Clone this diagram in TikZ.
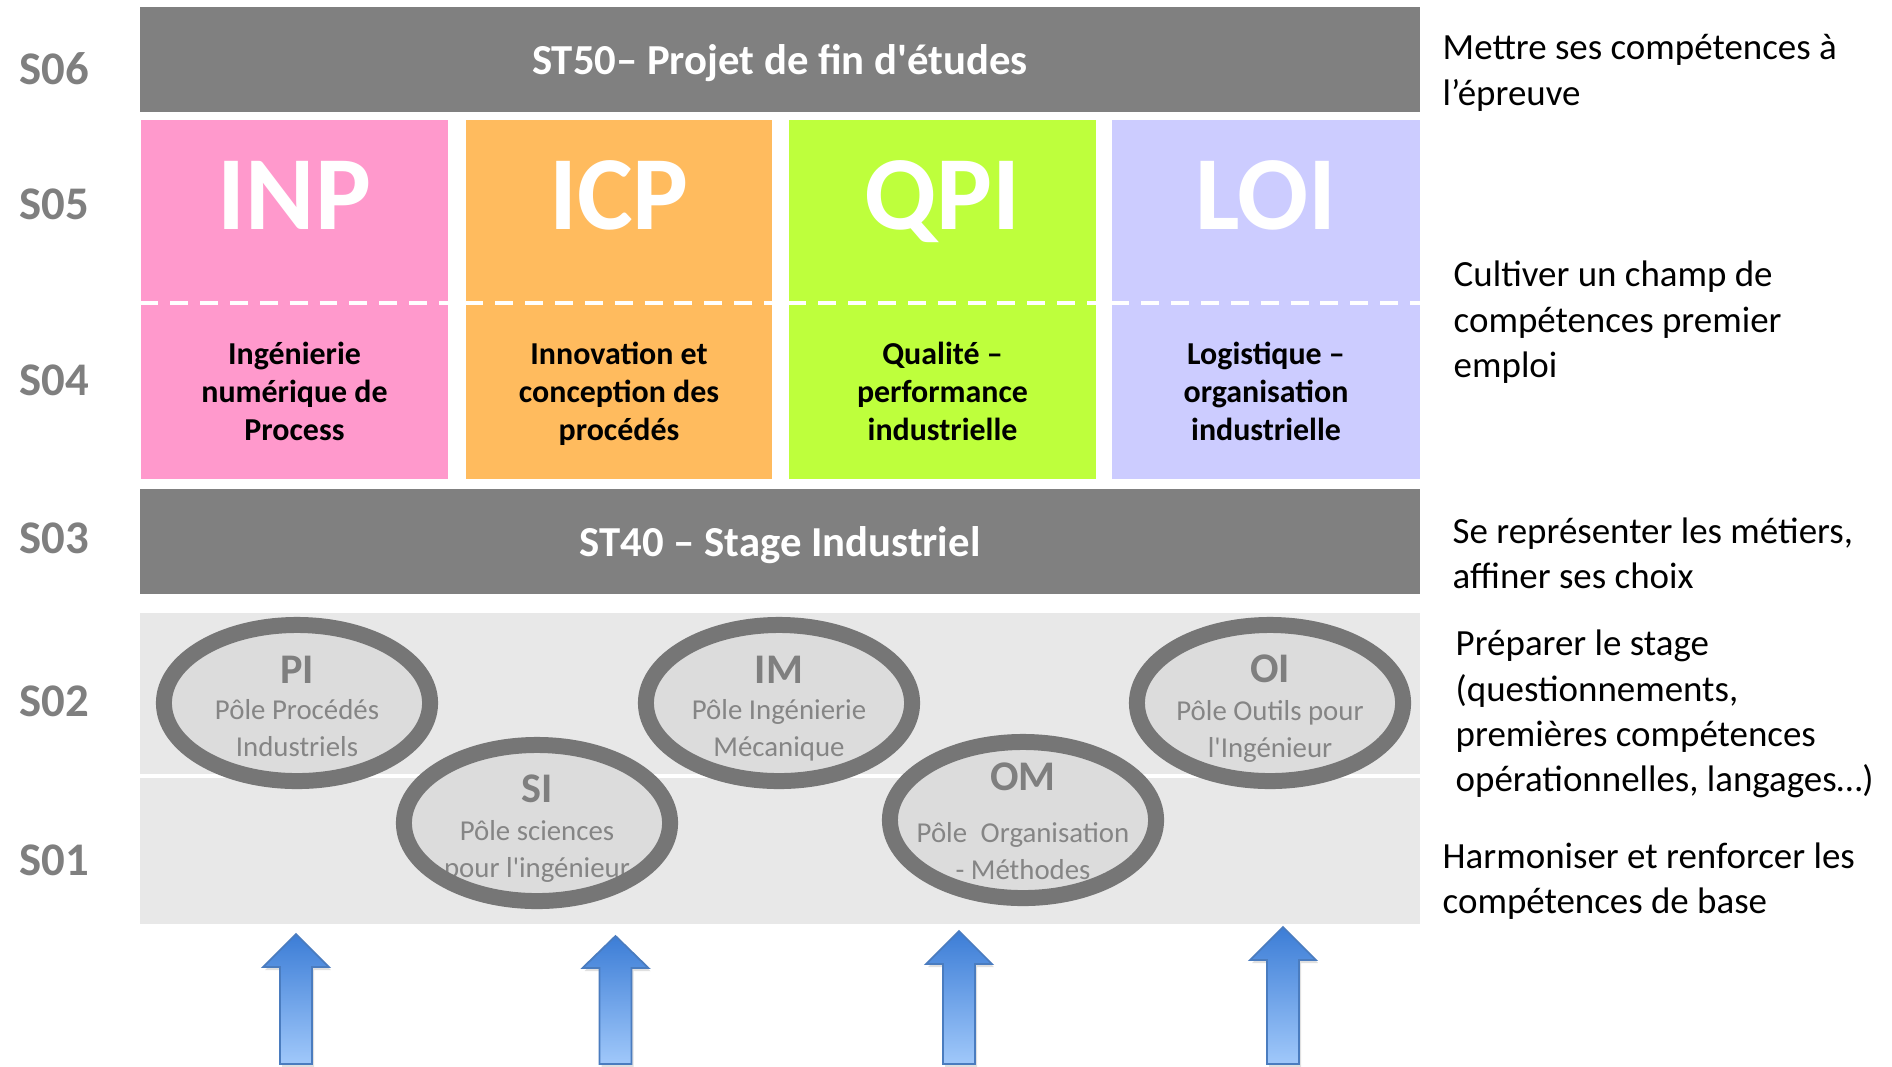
\documentclass[tikz,border=0pt]{standalone}
\usepackage{fontspec}
\setmainfont{Carlito}
\newfontfamily\carlplain{Carlito}
\usetikzlibrary{shapes.geometric}
\newcommand\stq{{\carlplain\char"0027\relax}}
\definecolor{bargrey}{HTML}{808080}
\definecolor{labgrey}{HTML}{7F7F7F}
\definecolor{bandgrey}{HTML}{E8E8E8}
\definecolor{polefill}{HTML}{DCDCDC}
\definecolor{ringgrey}{HTML}{767676}
\definecolor{polepink}{HTML}{FF99CC}
\definecolor{poleorange}{HTML}{FFBB5E}
\definecolor{polelime}{HTML}{BEFF3C}
\definecolor{polelav}{HTML}{CCCCFF}
\definecolor{arrtop}{HTML}{3C7DD6}
\definecolor{arrbot}{HTML}{A0C8FA}
\definecolor{arredge}{HTML}{4A7CBF}
\begin{document}
\begin{tikzpicture}[x=0.01cm,y=-0.01cm,
  slab/.style={anchor=base,inner sep=0pt,text=labgrey,font=\fontsize{13.3pt}{16pt}\selectfont\bfseries},
  barbox/.style={rectangle,fill=bargrey,inner sep=0pt,minimum width=12.8cm,minimum height=1.05cm},
  bartitle/.style={anchor=base,inner sep=0pt,text=white,font=\fontsize{12.15pt}{14pt}\selectfont\bfseries},
  optbox/.style={rectangle,inner sep=0pt,minimum height=3.59cm},
  bigcode/.style={anchor=base,inner sep=0pt,text=white,font=\fontsize{29.9pt}{34pt}\selectfont\bfseries},
  optname/.style={anchor=base,inner sep=0pt,align=center,text=black,font=\fontsize{9.08pt}{10.67pt}\selectfont\bfseries},
  dashline/.style={draw=white,line width=1.14pt,dash pattern=on 5.1pt off 3.4pt},
  band/.style={rectangle,fill=bandgrey,inner sep=0pt,minimum width=12.8cm},
  pole/.style={ellipse,fill=polefill,inner sep=0pt,minimum width=2.66cm,minimum height=1.56cm},
  ring/.style={draw=ringgrey,line width=4.55pt},
  poletitle/.style={anchor=base,inner sep=0pt,text=labgrey,font=\fontsize{12pt}{14pt}\selectfont\bfseries},
  polesub/.style={anchor=base,inner sep=0pt,align=center,text=labgrey!95!white,font=\fontsize{8.2pt}{10.25pt}\selectfont},
  goal/.style={anchor=base west,inner sep=0pt,align=left,text=black,font=\fontsize{10.5pt}{12.8pt}\selectfont},
  uparrow/.style={draw=arredge,line width=0.5pt,top color=arrtop,bottom color=arrbot},
  arrshadow/.style={fill=black,opacity=0.12}
]
\useasboundingbox (0,0) rectangle (1892,1066);
\clip (0,0) rectangle (1892,1066);
\fill[white] (0,0) rectangle (1892,1066);

% semester labels
\node[slab] (S06) at (54,84) {S06};
\node[slab] (S05) at (54,219) {S05};
\node[slab] (S04) at (54,395) {S04};
\node[slab] (S03) at (54,553) {S03};
\node[slab] (S02) at (54,716) {S02};
\node[slab] (S01) at (54,875) {S01};

% top bar
\node[barbox] (ST50) at (780,59.5) {};
\node[bartitle] (ST50t) at (780,74) {ST50– Projet de fin d\stq études};

% option boxes
\node[optbox,fill=polepink,minimum width=3.07cm] (INP) at (294.5,299.5) {};
\node[optbox,fill=poleorange,minimum width=3.06cm] (ICP) at (619,299.5) {};
\node[optbox,fill=polelime,minimum width=3.07cm] (QPI) at (942.5,299.5) {};
\node[optbox,fill=polelav,minimum width=3.08cm] (LOI) at (1266,299.5) {};
\foreach \b in {INP,ICP,QPI,LOI}{
  \draw[dashline] (\b.west |- 0,303) -- (\b.east |- 0,303);
}
\node[bigcode] (INPc) at (294.5,229) {INP};
\node[bigcode] (ICPc) at (619,229) {ICP};
\node[bigcode] (QPIc) at (942.5,229) {QPI};
\node[bigcode] (LOIc) at (1266,229) {LOI};
\node[optname] (INPn) at (294.5,440) {Ingénierie\\numérique de\\Process};
\node[optname] (ICPn) at (619,440) {Innovation et\\conception des\\procédés};
\node[optname] (QPIn) at (942.5,440) {Qualité –\\performance\\industrielle};
\node[optname] (LOIn) at (1266,440) {Logistique –\\organisation\\industrielle};

% S03 bar
\node[barbox] (ST40) at (780,541.5) {};
\node[bartitle] (ST40t) at (780,556) {ST40 – Stage Industriel};

% grey bands
\node[band,minimum height=1.61cm] (band2) at (780,693.5) {};
\node[band,minimum height=1.46cm] (band1) at (780,851) {};

% poles
\node[pole] (PI) at (297,703) {};
\node[pole] (IM) at (779,703) {};
\node[pole] (OI) at (1270,703) {};
\node[pole] (SI) at (537,823) {};
\node[pole] (OM) at (1023,820) {};

\node[poletitle] (PIt) at (297,683) {PI};
\node[polesub] (PIs) at (297,756) {Pôle Procédés\\Industriels};
\node[poletitle] (IMt) at (779,683) {IM};
\node[polesub] (IMs) at (779,756) {Pôle Ingénierie\\Mécanique};
\node[poletitle] (OIt) at (1270,682) {OI};
\node[polesub] (OIs) at (1270,757) {Pôle Outils pour\\l\stq Ingénieur};
\node[poletitle] (SIt) at (537,802) {SI};
\node[polesub] (SIs) at (537,877) {Pôle sciences\\pour l\stq ingénieur};
\node[poletitle] (OMt) at (1023,790) {OM};
\node[polesub] (OMs) at (1023,879) {Pôle\hspace{2pt} Organisation\\- Méthodes};

\foreach \p in {PI,IM,OI,SI,OM}{
  \draw[ring] (\p.center) ellipse [x radius=1.33cm, y radius=0.78cm];
}

% arrows
\foreach \cx/\tip/\base in {296/934/967, 615.5/936/968, 959/931/964, 1283/927/960}{
  \fill[arrshadow] (\cx-14,1070) -- (\cx-14,\base+3) -- (\cx-31,\base+3) -- (\cx+2,\tip+3) -- (\cx+35,\base+3) -- (\cx+18,\base+3) -- (\cx+18,1070) -- cycle;
  \shade[uparrow] (\cx-16,1064) -- (\cx-16,\base) -- (\cx-33,\base) -- (\cx,\tip) -- (\cx+33,\base) -- (\cx+16,\base) -- (\cx+16,1064) -- cycle;
}

% goals
\node[goal] (g6) at (1442,105) {Mettre ses compétences à\\l’épreuve};
\node[goal] (g45) at (1453,377) {Cultiver un champ de\\compétences premier\\emploi};
\node[goal] (g3) at (1452,588) {Se représenter les métiers,\\affiner ses choix};
\node[goal] (g2) at (1455,791) {Préparer le stage\\(questionnements,\\premières compétences\\opérationnelles, langages…)};
\node[goal] (g1) at (1442,913) {Harmoniser et renforcer les\\compétences de base};
\end{tikzpicture}
\end{document}
